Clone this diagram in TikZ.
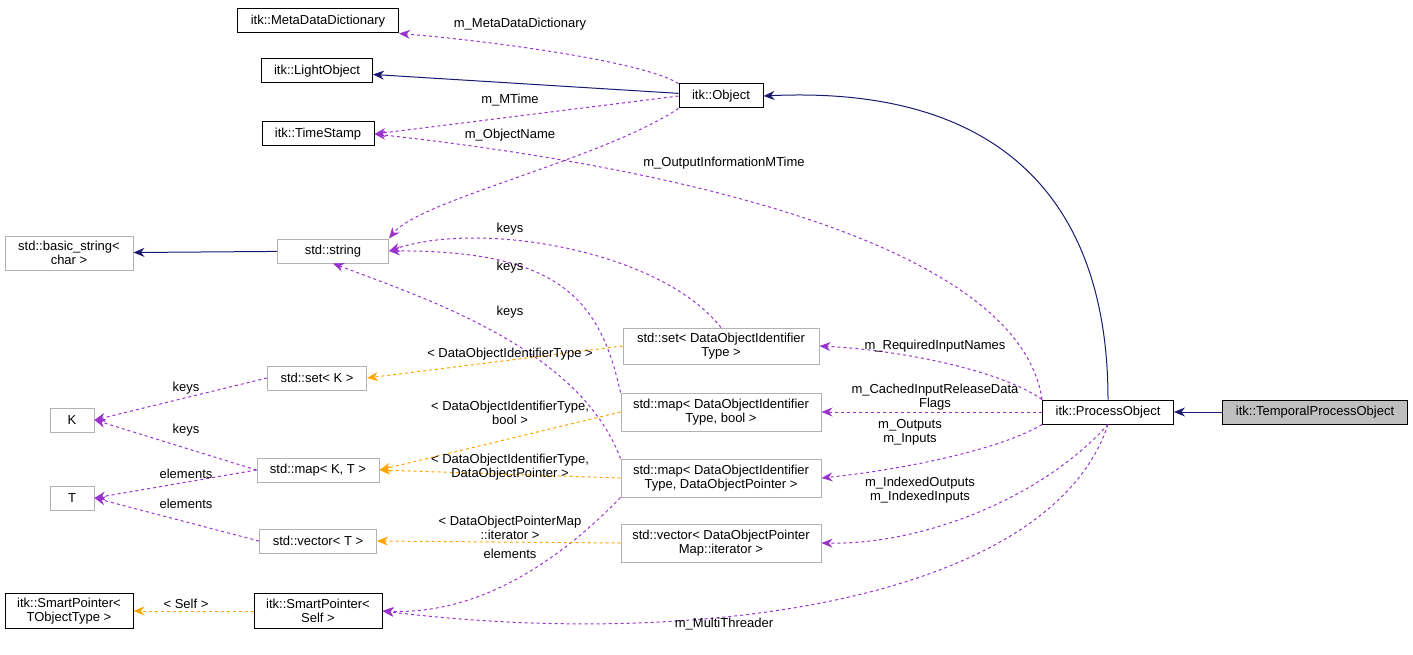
\documentclass[tikz,border=0pt]{standalone}
\usepackage{fontspec}
\setmainfont{Liberation Sans}
\usetikzlibrary{arrows.meta}
\definecolor{navy}{RGB}{25,25,112}
\definecolor{usecol}{RGB}{154,50,205}
\definecolor{tplcol}{RGB}{255,165,0}
\tikzset{
	cls/.style={draw=black, fill=white, line width=1pt, inner xsep=2pt, inner ysep=1pt, minimum height=24pt, align=center, font=\fontsize{13}{14}\selectfont},
	ext/.style={cls, draw=gray!60},
	inh/.style={draw=navy, line width=1pt, -{Stealth[length=11pt,width=9pt]}},
	use/.style={draw=usecol, line width=1pt, dashed, -{Stealth[length=11pt,width=9pt]}},
	tpl/.style={draw=tplcol, line width=1pt, dashed, -{Stealth[length=11pt,width=9pt]}},
	lbl/.style={font=\fontsize{13}{14}\selectfont, align=center, inner sep=1pt}
}
\begin{document}
\begin{tikzpicture}[x=1pt,y=-1pt]
	\useasboundingbox (0,0) rectangle (1413,655);

	% classes
	\node[cls, minimum width=161pt] (meta) at (318,21) {itk::MetaDataDictionary};
	\node[cls, minimum width=111pt] (light) at (317,71) {itk::LightObject};
	\node[cls, minimum width=112pt] (stamp) at (318,134) {itk::TimeStamp};
	\node[cls, minimum width=84pt] (obj) at (721,96) {itk::Object};
	\node[ext, minimum width=128pt, minimum height=34pt] (bstr) at (69,253) {std::basic\_string<\\char >};
	\node[ext, minimum width=111pt] (str) at (333,251) {std::string};
	\node[ext, minimum width=99pt] (setk) at (317,378) {std::set< K >};
	\node[ext, minimum width=44pt] (k) at (72,420) {K};
	\node[ext, minimum width=122pt] (mapkt) at (318,470) {std::map< K, T >};
	\node[ext, minimum width=44pt] (t) at (72,498) {T};
	\node[ext, minimum width=117pt] (vect) at (318,541) {std::vector< T >};
	\node[cls, minimum width=128pt, minimum height=35pt] (sptr) at (69,611) {itk::SmartPointer<\\TObjectType >};
	\node[cls, minimum width=128pt, minimum height=35pt] (sself) at (318,611) {itk::SmartPointer<\\Self >};
	\node[ext, minimum width=196pt, minimum height=36pt] (setid) at (721,346) {std::set< DataObjectIdentifier\\Type >};
	\node[ext, minimum width=200pt, minimum height=38pt] (mapb) at (721,412) {std::map< DataObjectIdentifier\\Type, bool >};
	\node[ext, minimum width=200pt, minimum height=38pt] (mapp) at (721,478) {std::map< DataObjectIdentifier\\Type, DataObjectPointer >};
	\node[ext, minimum width=200pt, minimum height=38pt] (vecit) at (721,543) {std::vector< DataObjectPointer\\Map::iterator >};
	\node[cls, minimum width=131pt] (proc) at (1108,412) {itk::ProcessObject};
	\node[cls, minimum width=185pt, fill=gray!50] (temp) at (1315,412) {itk::TemporalProcessObject};

	% inheritance
	\draw[inh] (obj) -- (light);
	\draw[inh] (proc.north) .. controls (1108,200) and (1000,85) .. (obj.east);
	\draw[inh] (temp) -- (proc);
	\draw[inh] (str) -- (bstr);

	% usage
	\draw[use] (obj.north west) .. controls (640,60) and (480,40) .. (meta.south east) node[lbl] at (520,24) {m\_MetaDataDictionary};
	\draw[use] (obj.west) -- (stamp.east) node[lbl] at (510,100) {m\_MTime};
	\draw[use] (obj.south west) .. controls (600,160) and (420,200) .. (str.north east) node[lbl] at (510,135) {m\_ObjectName};
	\draw[use] (proc.north west) .. controls (1020,250) and (700,170) .. (stamp.east) node[lbl] at (724,163) {m\_OutputInformationMTime};
	\draw[use] (setid.north) .. controls (660,250) and (480,220) .. (str.east) node[lbl] at (510,229) {keys};
	\draw[use] (mapb.north west) .. controls (600,300) and (560,250) .. (str.east) node[lbl] at (510,267) {keys};
	\draw[use] (mapp.north west) .. controls (580,350) and (430,300) .. (str.south) node[lbl] at (510,312) {keys};
	\draw[use] (proc.north west) .. controls (1000,370) and (900,350) .. (setid.east) node[lbl] at (935,346) {m\_RequiredInputNames};
	\draw[use] (proc.west) -- (mapb.east) node[lbl] at (935,397) {m\_CachedInputReleaseData\\Flags};
	\draw[use] (proc.south west) .. controls (1000,450) and (900,470) .. (mapp.east) node[lbl] at (910,432) {m\_Outputs\\m\_Inputs};
	\draw[use] (proc.south) .. controls (1040,500) and (920,545) .. (vecit.east) node[lbl] at (920,490) {m\_IndexedOutputs\\m\_IndexedInputs};
	\draw[use] (proc.south) .. controls (1050,600) and (700,650) .. (sself.east) node[lbl] at (724,624) {m\_MultiThreader};
	\draw[use] (mapp.south west) .. controls (560,560) and (480,615) .. (sself.east) node[lbl] at (510,554) {elements};
	\draw[use] (setk.west) -- (k.east) node[lbl] at (186,388) {keys};
	\draw[use] (mapkt.west) -- (k.east) node[lbl] at (186,430) {keys};
	\draw[use] (mapkt.west) -- (t.east) node[lbl] at (186,474) {elements};
	\draw[use] (vect.west) -- (t.east) node[lbl] at (186,504) {elements};

	% template instances
	\draw[tpl] (setid.west) -- (setk.east) node[lbl] at (510,354) {< DataObjectIdentifierType >};
	\draw[tpl] (mapb.west) -- (mapkt.east) node[lbl] at (510,413) {< DataObjectIdentifierType,\\bool >};
	\draw[tpl] (mapp.west) -- (mapkt.east) node[lbl] at (510,467) {< DataObjectIdentifierType,\\DataObjectPointer >};
	\draw[tpl] (vecit.west) -- (vect.east) node[lbl] at (510,528) {< DataObjectPointerMap\\::iterator >};
	\draw[tpl] (sself) -- (sptr) node[lbl] at (186,604) {< Self >};

\end{tikzpicture}
\end{document}
